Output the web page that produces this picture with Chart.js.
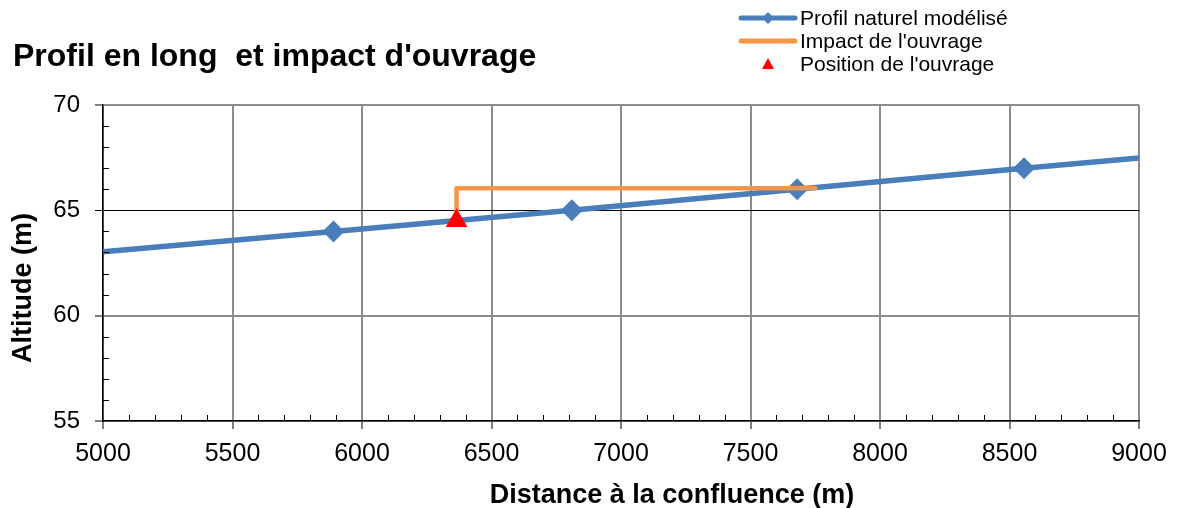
<!DOCTYPE html>
<html>
<head>
<meta charset="utf-8">
<script src="https://cdn.jsdelivr.net/npm/chart.js@4"></script>
<style>
  html, body { margin: 0; padding: 0; background: #fff; }
  #wrap { width: 1180px; height: 508px; }
</style>
</head>
<body>
<div id="wrap"><canvas id="profilChart" width="1180" height="508"></canvas></div>
<script>
// profil naturel (distance en m, altitude en m)
const profilX = [5000, 5890, 6810, 7680, 8556, 9000];
const profilY = [63.03, 64, 65, 66, 67, 67.48];
const profilMarkers = [false, true, true, true, true, false];

// remous / impact de l'ouvrage
const impactX = [6365, 6365, 7750];
const impactY = [64.5, 66.05, 66.05];

// position de l'ouvrage
const ouvrageX = [6365];
const ouvrageY = [64.5];

const xTicks = [5000, 5500, 6000, 6500, 7000, 7500, 8000, 8500, 9000];
const yTicks = [55, 60, 65, 70];

const labels = ['Profil naturel modélisé', "Impact de l'ouvrage", "Position de l'ouvrage"];
const xTitle = 'Distance à la confluence (m)';
const yTitle = 'Altitude (m)';

const BLUE = '#4a7ebb';
const ORANGE = '#f79646';
const RED = '#ff0000';
const GRID = '#8c8c8c';
const FONT = "'Liberation Sans', Arial, sans-serif";

const toPts = (xs, ys) => xs.map((x, i) => ({ x: x, y: ys[i] }));

// petites graduations intérieures, titres d'axes et légende
const extras = {
  id: 'extras',
  afterDraw(chart) {
    const ctx = chart.ctx;
    const xs = chart.scales.x, ys = chart.scales.y;
    const area = chart.chartArea;
    ctx.save();
    ctx.strokeStyle = '#000';
    ctx.lineWidth = 1;
    for (let v = 5000; v <= 9000; v += 100) {
      if (v % 500 === 0) continue;
      const px = Math.round(xs.getPixelForValue(v)) + 0.5;
      ctx.beginPath();
      ctx.moveTo(px, area.bottom);
      ctx.lineTo(px, area.bottom - 6);
      ctx.stroke();
    }
    for (let v = 55; v <= 70; v += 1) {
      if (v % 5 === 0) continue;
      const py = Math.round(ys.getPixelForValue(v)) + 0.5;
      ctx.beginPath();
      ctx.moveTo(area.left, py);
      ctx.lineTo(area.left + 6, py);
      ctx.stroke();
    }

    // titres des axes (décalés comme dans Excel)
    ctx.fillStyle = '#000';
    ctx.font = 'bold 27px ' + FONT;
    ctx.textAlign = 'center';
    ctx.textBaseline = 'middle';
    ctx.fillText(xTitle, 672, 496);
    ctx.save();
    ctx.translate(24, 288);
    ctx.rotate(-Math.PI / 2);
    ctx.fillText(yTitle, 0, 0);
    ctx.restore();

    // légende
    const lx0 = 741, lx1 = 795, tx = 800;
    const rows = [18, 41, 64];
    ctx.lineCap = 'round';
    ctx.lineWidth = 5;
    ctx.strokeStyle = BLUE;
    ctx.beginPath(); ctx.moveTo(lx0, rows[0]); ctx.lineTo(lx1, rows[0]); ctx.stroke();
    ctx.fillStyle = BLUE;
    ctx.beginPath();
    ctx.moveTo(768, rows[0] - 6); ctx.lineTo(774, rows[0]);
    ctx.lineTo(768, rows[0] + 6); ctx.lineTo(762, rows[0]);
    ctx.closePath(); ctx.fill();
    ctx.strokeStyle = ORANGE;
    ctx.beginPath(); ctx.moveTo(lx0, rows[1]); ctx.lineTo(lx1, rows[1]); ctx.stroke();
    ctx.fillStyle = RED;
    ctx.beginPath();
    ctx.moveTo(768, rows[2] - 6); ctx.lineTo(774, rows[2] + 5);
    ctx.lineTo(762, rows[2] + 5); ctx.closePath(); ctx.fill();

    ctx.fillStyle = '#000';
    ctx.font = '21px ' + FONT;
    ctx.textAlign = 'left';
    labels.forEach((t, i) => ctx.fillText(t, tx, rows[i] + 1));
    ctx.restore();
  }
};

new Chart(document.getElementById('profilChart').getContext('2d'), {
  type: 'scatter',
  data: {
    datasets: [
      {
        label: labels[2],
        data: toPts(ouvrageX, ouvrageY),
        pointStyle: 'triangle',
        pointRadius: 12.5,
        pointHoverRadius: 12.5,
        backgroundColor: RED,
        borderColor: RED,
        borderWidth: 0,
        order: 0
      },
      {
        label: labels[1],
        data: toPts(impactX, impactY),
        showLine: true,
        borderColor: ORANGE,
        borderWidth: 4.5,
        pointRadius: 0,
        borderCapStyle: 'round',
        borderJoinStyle: 'round',
        order: 1
      },
      {
        label: labels[0],
        data: toPts(profilX, profilY),
        showLine: true,
        borderColor: BLUE,
        backgroundColor: BLUE,
        borderWidth: 5.5,
        pointStyle: 'rectRot',
        pointRadius: profilMarkers.map(m => m ? 11 : 0),
        pointBorderWidth: 0,
        order: 2
      }
    ]
  },
  options: {
    responsive: false,
    animation: false,
    devicePixelRatio: 1,
    layout: { padding: { left: 13, right: 41, top: 0, bottom: 0 } },
    plugins: {
      legend: { display: false },
      tooltip: { enabled: false },
      title: {
        display: true,
        text: "Profil en long  et impact d'ouvrage",
        align: 'start',
        color: '#000',
        font: { family: FONT, size: 32, weight: 'bold' },
        padding: { top: 38, bottom: 28.6 }
      }
    },
    scales: {
      x: {
        type: 'linear',
        min: 5000,
        max: 9000,
        afterBuildTicks(scale) { scale.ticks = xTicks.map(v => ({ value: v })); },
        afterFit(scale) { scale.height = 87; },
        ticks: {
          color: '#000',
          padding: 10,
          font: { family: FONT, size: 25 },
          maxRotation: 0,
          callback: v => String(v)
        },
        grid: {
          color: GRID,
          lineWidth: 2,
          tickLength: 8,
          tickColor: '#000',
          tickWidth: 1
        },
        border: { color: '#000', width: 1.5 }
      },
      y: {
        type: 'linear',
        min: 55,
        max: 70,
        afterBuildTicks(scale) { scale.ticks = yTicks.map(v => ({ value: v })); },
        afterFit(scale) { scale.width = 90; },
        ticks: {
          color: '#000',
          padding: 15,
          font: { family: FONT, size: 24 },
          callback: v => String(v)
        },
        grid: {
          color: ctx => ctx.tick && ctx.tick.value === 65 ? '#000' : GRID,
          lineWidth: ctx => ctx.tick && ctx.tick.value === 65 ? 1 : 2,
          tickLength: 8,
          tickColor: '#000',
          tickWidth: 1
        },
        border: { color: '#000', width: 1.5 }
      }
    }
  },
  plugins: [extras]
});
</script>
</body>
</html>
